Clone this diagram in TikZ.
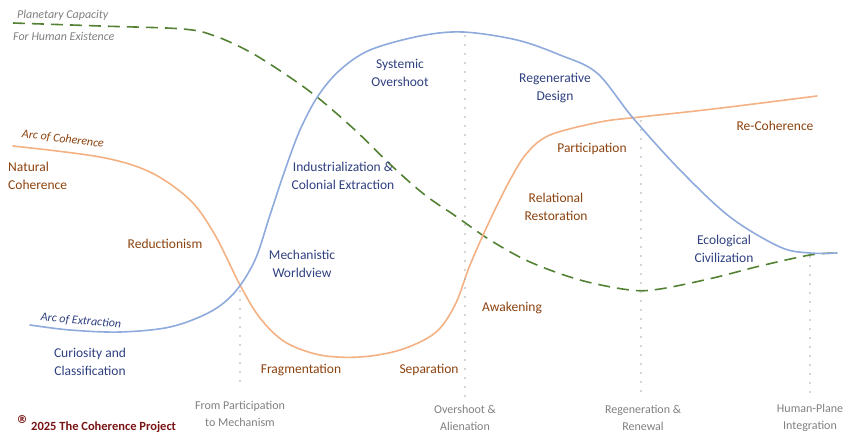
\documentclass[tikz,border=0pt]{standalone}
\usepackage{fontspec}
\setmainfont{Carlito}
\newfontfamily\symfont{DejaVu Sans}
\begin{document}
\definecolor{extractline}{RGB}{143,170,220}
\definecolor{coherline}{RGB}{244,177,131}
\definecolor{planetline}{RGB}{84,130,53}
\definecolor{bluetxt}{RGB}{47,64,128}
\definecolor{browntxt}{RGB}{140,66,14}
\definecolor{graytxt}{RGB}{128,128,128}
\definecolor{markgray}{RGB}{170,170,170}
\definecolor{copyred}{RGB}{120,20,20}
\begin{tikzpicture}[x=1pt,y=-1pt,
  lbl/.style={inner sep=0pt,align=center,font=\fontsize{13.5}{17.5}\selectfont},
  bluelbl/.style={lbl,text=bluetxt},
  brownlbl/.style={lbl,text=browntxt},
  phaselbl/.style={inner sep=0pt,align=center,text=graytxt,font=\fontsize{12}{16.5}\selectfont},
  arclbl/.style={inner sep=0pt,font=\fontsize{12}{13}\selectfont\itshape},
  curve/.style={line width=1.6pt,line cap=round,line join=round},
  marker/.style={draw=markgray,line width=1.7pt,line cap=round,dash pattern=on 0pt off 9pt}
]
\useasboundingbox (0,0) rectangle (843,433);

% planetary capacity (dashed)
\draw[curve,planetline,line cap=butt,dash pattern=on 12pt off 7pt]
  plot[smooth,tension=0.55] coordinates {(13,23) (100,26) (183,29) (215,36) (250,52) (285,74)
  (317,97) (355,130) (393,167) (425,195) (457,217) (490,240) (530,262) (580,280)
  (630,290) (660,289) (713,278) (760,266) (810,255) (837,253)};

% arc of coherence
\draw[curve,coherline]
  plot[smooth,tension=0.55] coordinates {(13,146) (100,157) (150,172) (190,200) (215,235)
  (240,285) (260,318) (285,342) (320,355) (360,357) (400,350) (435,333) (455,305)
  (470,265) (490,220) (510,180) (527,153) (550,135) (600,122) (640,117) (713,109) (817,96)};

% arc of extraction
\draw[curve,extractline]
  plot[smooth,tension=0.55] coordinates {(30,325) (70,330) (120,332) (170,327) (210,312)
  (235,292) (255,260) (270,215) (285,170) (300,130) (318,96) (340,70) (370,50) (420,36)
  (463,32) (517,40) (560,55) (597,73) (633,118) (680,170) (730,217) (780,247) (810,253) (837,253)};

% phase markers
\coordinate (m1top) at (240,291); \coordinate (m1bot) at (240,388);
\coordinate (m2top) at (465,36);  \coordinate (m2bot) at (465,397);
\coordinate (m3top) at (641,121); \coordinate (m3bot) at (641,391);
\coordinate (m4top) at (810,257); \coordinate (m4bot) at (810,393);
\draw[marker] (m1top) -- (m1bot);
\draw[marker] (m2top) -- (m2bot);
\draw[marker] (m3top) -- (m3bot);
\draw[marker] (m4top) -- (m4bot);

% curve titles
\node[arclbl,text=graytxt,anchor=west] (planet1) at (17,15) {Planetary Capacity};
\node[arclbl,text=graytxt,anchor=west] (planet2) at (13,36) {For Human Existence};
\node[arclbl,text=browntxt,rotate=-7] (arccoh) at (63,139) {Arc of Coherence};
\node[arclbl,text=bluetxt,rotate=-5] (arcext) at (81,321) {Arc of Extraction};

% stage labels
\node[brownlbl,anchor=west,align=left] (natural) at (8,176) {Natural\\Coherence};
\node[brownlbl] (reduct) at (165,244) {Reductionism};
\node[bluelbl] (curio) at (90,362) {Curiosity and\\Classification};
\node[bluelbl] (mech) at (302,264) {Mechanistic\\Worldview};
\node[bluelbl] (indus) at (343,176) {Industrialization \&\\Colonial Extraction};
\node[bluelbl] (systemic) at (400,73) {Systemic\\Overshoot};
\node[bluelbl] (regen) at (555,88) {Regenerative\\Design};
\node[brownlbl] (partic) at (592,149) {Participation};
\node[brownlbl] (relat) at (556,207) {Relational\\Restoration};
\node[brownlbl] (recoh) at (775,126) {Re-Coherence};
\node[bluelbl] (ecol) at (724,249) {Ecological\\Civilization};
\node[brownlbl] (awake) at (512,308) {Awakening};
\node[brownlbl] (frag) at (301,370) {Fragmentation};
\node[brownlbl] (sep) at (429,370) {Separation};

% phase labels
\node[phaselbl] (ph1) at (240,414) {From Participation\\to Mechanism};
\node[phaselbl] (ph2) at (465,418) {Overshoot \&\\Alienation};
\node[phaselbl] (ph3) at (643,418) {Regeneration \&\\Renewal};
\node[phaselbl] (ph4) at (810,418) {Human-Plane\\Integration};

% copyright
\node[inner sep=0pt,text=copyred,font=\fontsize{11}{11}\selectfont\symfont\bfseries] (regmark) at (22,420) {®};
\node[inner sep=0pt,anchor=base west,text=copyred,font=\fontsize{12.5}{13}\selectfont\bfseries] (copy) at (31,430)
  {2025 The Coherence Project};
\end{tikzpicture}
\end{document}
